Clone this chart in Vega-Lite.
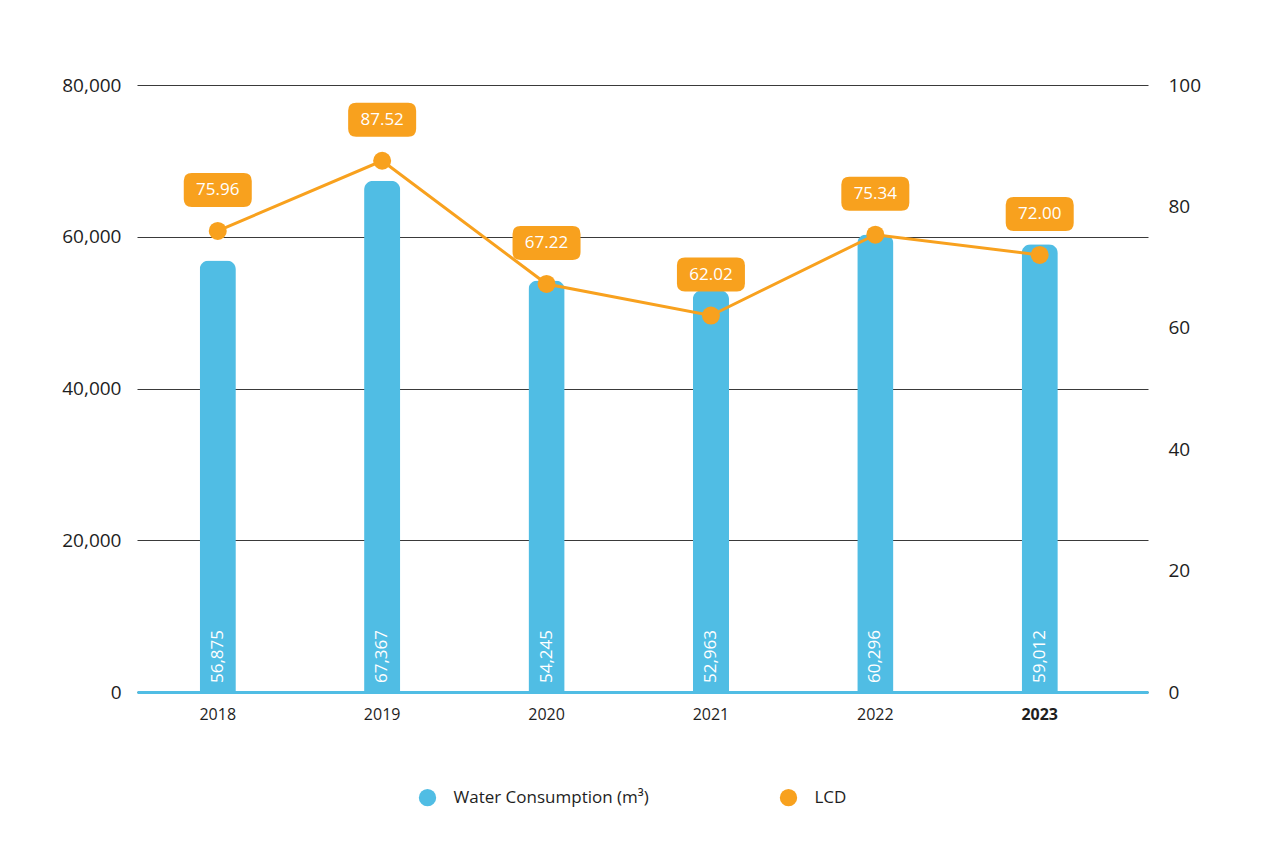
{
  "$schema": "https://vega.github.io/schema/vega-lite/v6.json",
  "width": 1011,
  "height": 607,
  "autosize": {"type": "none"},
  "padding": {"left": 137, "top": 85, "right": 136, "bottom": 149},
  "background": "white",
  "config": {
    "view": {"stroke": null},
    "font": "Open Sans",
    "axis": {"labelColor": "#1e1e1e", "labelFont": "Open Sans"},
    "legend": {"labelFont": "Open Sans"}
  },
  "data": {
    "values": [
      {"year": "2018", "water": 56875, "lcd": 75.96},
      {"year": "2019", "water": 67367, "lcd": 87.52},
      {"year": "2020", "water": 54245, "lcd": 67.22},
      {"year": "2021", "water": 52963, "lcd": 62.02},
      {"year": "2022", "water": 60296, "lcd": 75.34},
      {"year": "2023", "water": 59012, "lcd": 72.0}
    ]
  },
  "encoding": {
    "x": {
      "field": "year",
      "type": "nominal",
      "sort": null,
      "scale": {"paddingInner": 0.78, "paddingOuter": 0.465, "align": 0.41},
      "axis": {
        "title": null,
        "labelAngle": 0,
        "ticks": false,
        "domain": true,
        "domainColor": "#50bde4",
        "domainWidth": 3,
        "zindex": 1,
        "labelFontSize": 16,
        "labelPadding": 14,
        "labelFontWeight": {"condition": {"test": "datum.value === '2023'", "value": "bold"}, "value": "normal"}
      }
    }
  },
  "layer": [
    {
      "encoding": {
        "y": {
          "field": "water",
          "type": "quantitative",
          "scale": {"domain": [0, 80000]},
          "axis": {
            "title": null,
            "values": [0, 20000, 40000, 60000, 80000],
            "format": ",.0f",
            "grid": true,
            "gridColor": "#3a3a3a",
            "gridWidth": 1,
            "domain": false,
            "ticks": false,
            "labelPadding": 16,
            "labelFontSize": 19
          }
        }
      },
      "layer": [
        {
          "mark": {"type": "bar", "cornerRadiusTopLeft": 9, "cornerRadiusTopRight": 9},
          "encoding": {
            "color": {
              "datum": "Water Consumption (m³)",
              "type": "nominal",
              "scale": {"domain": ["Water Consumption (m³)", "LCD"], "range": ["#50bde4", "#f8a11e"]},
              "legend": {
                "title": null,
                "orient": "none",
                "legendX": 281.5,
                "legendY": 703.5,
                "direction": "horizontal",
                "symbolType": "circle",
                "symbolSize": 300,
                "symbolStrokeWidth": 0,
                "labelFontSize": 17,
                "labelColor": "#1e1e1e",
                "labelOffset": 17,
                "labelLimit": 400,
                "columnPadding": 130,
                "padding": 0
              }
            }
          }
        },
        {
          "mark": {"type": "text", "angle": 270, "align": "left", "baseline": "middle", "dx": 9, "color": "white", "fontSize": 17},
          "encoding": {
            "y": {"datum": 0},
            "text": {"field": "water", "type": "quantitative", "format": ",.0f"}
          }
        }
      ]
    },
    {
      "encoding": {
        "y": {
          "field": "lcd",
          "type": "quantitative",
          "scale": {"domain": [0, 100]},
          "axis": {
            "title": null,
            "orient": "right",
            "values": [0, 20, 40, 60, 80, 100],
            "grid": false,
            "domain": false,
            "ticks": false,
            "labelPadding": 20,
            "labelFontSize": 19
          }
        }
      },
      "layer": [
        {"mark": {"type": "line", "color": "#f8a11e", "strokeWidth": 3}},
        {
          "mark": {"type": "point", "filled": true, "opacity": 1, "size": 324, "strokeWidth": 0},
          "encoding": {"color": {"datum": "LCD", "type": "nominal"}}
        },
        {
          "mark": {
            "type": "point",
            "shape": "M-0.765,-0.5 L0.765,-0.5 Q1,-0.5 1,-0.265 L1,0.265 Q1,0.5 0.765,0.5 L-0.765,0.5 Q-1,0.5 -1,0.265 L-1,-0.265 Q-1,-0.5 -0.765,-0.5 Z",
            "size": 4624,
            "filled": true,
            "opacity": 1,
            "strokeWidth": 0,
            "color": "#f8a11e",
            "yOffset": -41
          }
        },
        {
          "mark": {"type": "text", "color": "white", "fontSize": 17, "yOffset": -41, "baseline": "middle", "align": "center"},
          "encoding": {
            "text": {"field": "lcd", "type": "quantitative", "format": ".2f"},
            "fontWeight": {"condition": {"test": "datum.year === '2023'", "value": "bold"}, "value": "normal"}
          }
        }
      ]
    }
  ],
  "resolve": {"scale": {"y": "independent"}}
}
